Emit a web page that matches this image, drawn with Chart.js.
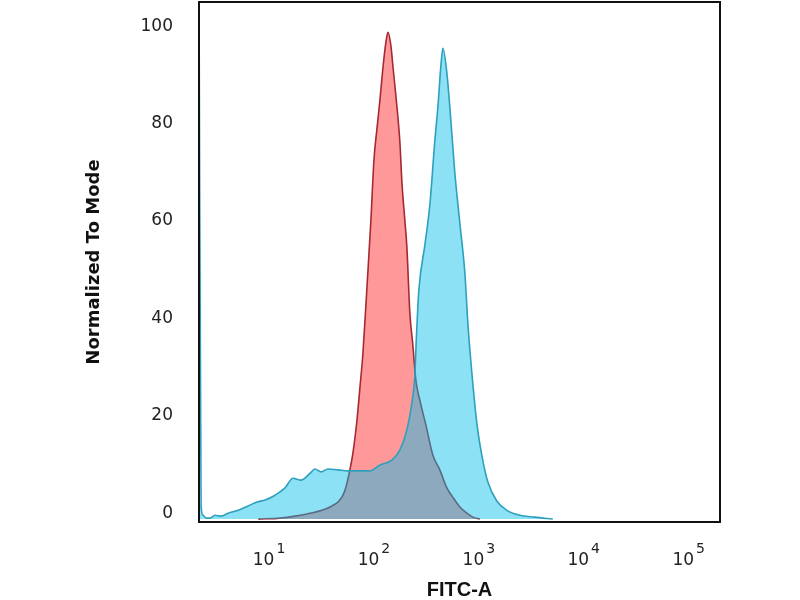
<!DOCTYPE html>
<html>
<head>
<meta charset="utf-8">
<title>FITC-A histogram</title>
<script src="https://cdn.jsdelivr.net/npm/chart.js@4.4.1/dist/chart.umd.min.js"></script>
<style>
  body { margin: 0; background: #fff; }
  #wrap { width: 800px; height: 600px; }
</style>
</head>
<body>
<div id="wrap"><canvas id="histChart" width="800" height="600"></canvas></div>
<script>
// FITC-A values (x) and % of mode (y)
const redX = [7.9, 12.7, 17.7, 24.6, 32, 39.8, 45.4, 50.7, 54.1, 59, 63.1, 68.9, 73.6, 78.6, 85.8, 93.6,
  100, 107, 114, 122, 130, 136, 145, 152, 166, 177, 185, 197, 206, 220, 235, 251, 274, 313, 365, 425,
  496, 565, 659, 769, 877, 1023];
const redY = [0, 0.2, 0.6, 1.2, 1.8, 2.7, 3.5, 4.9, 6.6, 10.1, 13.6, 20.3, 27.1, 34.1, 47.6, 61.4,
  73.7, 80.3, 86, 92.8, 97.9, 100, 97.3, 92.8, 84.5, 77.2, 69, 61.4, 55.9, 42.3, 35.7, 28.5, 24.4, 19.3, 13.1, 10.1,
  6.4, 4.5, 2.5, 1.2, 0.4, 0];

const blueX = [2.15, 2.25, 2.35, 2.51, 2.74, 3.06, 3.49, 4.07, 5.07, 6.31, 7.69, 9.16, 11.4, 14.2, 16.9, 20.2,
  24.6, 27.4, 31.3, 36.5, 45.4, 56.5, 73.6, 91.6, 114, 148, 177, 206, 230, 245, 254, 268, 306, 341, 381, 407,
  435, 454, 496, 529, 591, 659, 736, 786, 858, 957, 1068, 1219, 1483, 1848, 2455, 3412, 5070];
const blueY = [110, 2.9, 0.8, 0.2, 0.2, 0.8, 0.6, 1.2, 1.8, 2.7, 3.5, 3.9, 4.9, 6.4, 8.4, 8.0,
  9.4, 10.3, 9.7, 10.3, 10.1, 9.9, 9.9, 9.9, 11.1, 12.1, 14.2, 18.3, 23.8, 29.2, 37.4, 47.0, 56.3, 64.5, 77.8, 84.6,
  93.2, 96.7, 91.6, 84.6, 71.0, 60.8, 50.5, 40.2, 30.0, 19.7, 13.1, 7.6, 3.7, 1.8, 0.8, 0.4, 0];

const yTicks = [0, 20, 40, 60, 80, 100];
const xTicks = [10, 100, 1000, 10000, 100000];

const toPoints = (xs, ys) => xs.map((x, i) => ({ x: x, y: ys[i] }));

// black box round the plot area
const framePlugin = {
  id: "frame",
  afterDraw(chart) {
    const { ctx, chartArea: a } = chart;
    ctx.save();
    ctx.strokeStyle = "#111";
    ctx.lineWidth = 2;
    ctx.strokeRect(a.left, a.top, a.right - a.left, a.bottom - a.top);
    ctx.restore();
  }
};

// x tick labels drawn as 10 with a raised exponent
const expLabels = {
  id: "expLabels",
  afterDraw(chart) {
    const { ctx, chartArea: a } = chart;
    const xScale = chart.scales.x;
    ctx.save();
    ctx.fillStyle = "#222";
    ctx.textBaseline = "alphabetic";
    ctx.textAlign = "left";
    xTicks.forEach(v => {
      const px = xScale.getPixelForValue(v);
      const exp = String(Math.round(Math.log10(v)));
      ctx.font = '17px "DejaVu Sans"';
      const w1 = ctx.measureText("10").width;
      ctx.font = '14px "DejaVu Sans"';
      const w2 = ctx.measureText(exp).width;
      const start = px - (w1 + 2 + w2) / 2;
      ctx.font = '17px "DejaVu Sans"';
      ctx.fillText("10", start, a.bottom + 43);
      ctx.font = '14px "DejaVu Sans"';
      ctx.fillText(exp, start + w1 + 2, a.bottom + 31);
    });
    ctx.restore();
  }
};

new Chart(document.getElementById("histChart"), {
  type: "scatter",
  data: {
    datasets: [
      {
        label: "Isotype control",
        data: toPoints(redX, redY),
        order: 2,
        showLine: true,
        pointRadius: 0,
        borderWidth: 1.6,
        borderColor: "rgb(165, 40, 50)",
        backgroundColor: "rgba(255, 0, 0, 0.4)",
        fill: "origin",
        cubicInterpolationMode: "monotone"
      },
      {
        label: "Antibody",
        data: toPoints(blueX, blueY),
        order: 1,
        showLine: true,
        pointRadius: 0,
        borderWidth: 1.6,
        borderColor: "rgb(45, 160, 190)",
        backgroundColor: "rgba(0, 189, 233, 0.45)",
        fill: "origin",
        cubicInterpolationMode: "monotone"
      }
    ]
  },
  options: {
    responsive: false,
    animation: false,
    layout: { padding: { top: 2, right: 80, bottom: 0, left: 0 } },
    plugins: {
      legend: { display: false },
      tooltip: { enabled: false }
    },
    scales: {
      x: {
        type: "logarithmic",
        min: 2.15,
        max: 199000,
        grid: { display: false, drawTicks: false },
        border: { display: false },
        ticks: { display: false },
        afterBuildTicks: scale => { scale.ticks = xTicks.map(v => ({ value: v })); },
        afterFit: scale => {
          scale.height = 78;
          scale.paddingLeft = 0;
          scale.paddingRight = 0;
        },
        title: {
          display: true,
          text: "FITC-A",
          color: "#111",
          font: { family: "Liberation Sans", size: 20, weight: "bold", lineHeight: 1 },
          padding: { top: 0, bottom: 0 }
        }
      },
      y: {
        min: -0.6,
        max: 106.2,
        grid: { display: false, drawTicks: false },
        border: { display: false },
        afterBuildTicks: scale => { scale.ticks = yTicks.map(v => ({ value: v })); },
        afterFit: scale => {
          scale.width = 199;
          scale.paddingTop = 0;
          scale.paddingBottom = 0;
        },
        ticks: {
          color: "#222",
          padding: 26,
          labelOffset: -6,
          font: { family: "DejaVu Sans", size: 17 }
        },
        title: {
          display: true,
          text: "Normalized To Mode",
          color: "#111",
          font: { family: "DejaVu Sans", size: 18, weight: "bold", lineHeight: 1 },
          padding: { top: 85, bottom: 0 }
        }
      }
    }
  },
  plugins: [framePlugin, expLabels]
});
</script>
</body>
</html>
